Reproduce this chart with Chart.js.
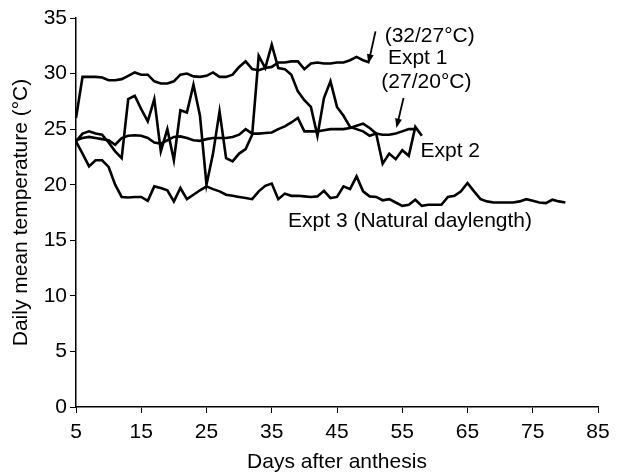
<!DOCTYPE html>
<html>
<head>
<meta charset="utf-8">
<script src="https://cdn.jsdelivr.net/npm/chart.js@4"></script>
<style>
  html, body { margin: 0; padding: 0; background: #fff; }
  #wrap { width: 622px; height: 474px; }
</style>
</head>
<body>
<div id="wrap"><canvas id="tempChart"></canvas></div>
<script>
// days after anthesis for each series
const daysHigh = [5,6,7,8,9,10,11,12,13,14,15,16,17,18,19,20,21,22,23,24,25,26,27,28,29,30,31,32,33,34,35,36,37,38,39,40,41,42,43,44,45,46,47,48,49,50];
const expt1High = [26.0,29.7,29.7,29.7,29.65,29.4,29.4,29.5,29.8,30.1,29.9,29.9,29.3,29.1,29.1,29.3,29.9,30.0,29.75,29.7,29.8,30.1,29.7,29.7,29.9,30.6,31.1,30.4,30.3,30.5,30.6,31.0,31.0,31.1,31.1,30.4,30.9,31.0,30.9,30.9,31.0,31.0,31.2,31.5,31.2,31.0];

const daysLow = [5,6,7,8,9,10,11,12,13,14,15,16,17,18,19,20,21,22,23,24,25,26,27,28,29,30,31,32,33,34,35,36,37,38,39,40,41,42,43,44,45,46,47,48,49,50,51,52,53,54,55,56,57];
const expt1Low = [24.0,24.2,24.3,24.2,24.1,24.0,23.6,24.2,24.4,24.45,24.4,24.2,23.8,23.7,24.0,24.3,24.35,24.2,24.0,23.95,24.1,24.2,24.2,24.2,24.3,24.5,25.0,24.6,24.6,24.65,24.7,25.0,25.25,25.6,26.0,24.8,24.8,24.8,24.9,25.0,25.0,25.0,25.1,25.3,25.5,25.1,24.6,24.5,24.5,24.6,24.8,25.0,25.0];

const days2 = [5,6,7,8,9,10,11,12,13,14,15,16,17,18,19,20,21,22,23,24,25,26,27,28,29,30,31,32,33,34,35,36,37,38,39,40,41,42,43,44,45,46,47,48,49,50,51,52,53,54,55,56,57,58];
const expt2 = [23.9,24.6,24.8,24.6,24.5,23.8,23.0,22.4,27.7,28.0,26.8,25.7,27.7,23.0,25.0,22.2,26.7,26.5,29.0,26.2,20.0,22.8,26.6,22.4,22.1,22.8,23.2,24.5,31.6,30.5,32.6,30.5,30.4,29.9,28.4,27.6,27.0,24.4,27.8,29.3,27.0,26.2,25.2,25.0,24.8,24.4,24.6,21.9,22.8,22.3,23.1,22.6,25.2,24.4];

const days3 = [5,6,7,8,9,10,11,12,13,14,15,16,17,18,19,20,21,22,23,24,25,26,27,28,29,30,31,32,33,34,35,36,37,38,39,40,41,42,43,44,45,46,47,48,49,50,51,52,53,54,55,56,57,58,59,60,61,62,63,64,65,66,67,68,69,70,71,72,73,74,75,76,77,78,79,80];
const expt3 = [23.9,22.8,21.65,22.2,22.2,21.6,20.0,18.9,18.85,18.9,18.9,18.55,19.85,19.7,19.5,18.5,19.7,18.7,19.1,19.5,19.85,19.6,19.4,19.1,19.0,18.9,18.8,18.7,19.4,19.9,20.1,18.7,19.2,19.0,19.0,18.95,18.9,18.95,19.45,18.8,18.9,19.85,19.6,20.75,19.4,18.95,18.9,18.6,18.7,18.4,18.1,18.2,18.65,18.1,18.2,18.2,18.2,18.9,19.0,19.4,20.15,19.4,18.7,18.5,18.4,18.4,18.4,18.4,18.5,18.7,18.55,18.4,18.35,18.65,18.5,18.4];

const xTicks = [5,15,25,35,45,55,65,75,85];
const yTicks = [0,5,10,15,20,25,30,35];

// text labels placed in data units
const labelTexts = ['(32/27°C)', 'Expt 1', '(27/20°C)', 'Expt 2', 'Expt 3 (Natural daylength)'];
const labelX = [52.3, 52.8, 51.8, 57.8, 37.5];
const labelY = [33.4, 31.4, 29.2, 23.0, 16.75];
// arrows: from (x0,y0) to (x1,y1)
const arrowFrom = [[50.9, 33.8], [55.2, 27.8]];
const arrowTo = [[49.8, 30.9], [54.1, 25.1]];

const FONT = "'Liberation Sans', Arial, Helvetica, sans-serif";
const FSIZE = 21;

function toPoints(xs, ys) {
  return xs.map((d, i) => ({ x: d, y: ys[i] }));
}

function lineSet(label, xs, ys) {
  return {
    label: label,
    data: toPoints(xs, ys),
    borderColor: '#000',
    borderWidth: 2.6,
    pointRadius: 0,
    tension: 0,
    fill: false
  };
}

const annotate = {
  id: 'annotate',
  afterDatasetsDraw(chart) {
    const ctx = chart.ctx;
    const xs = chart.scales.x, ys = chart.scales.y;
    ctx.save();
    ctx.fillStyle = '#000';
    ctx.font = FSIZE + 'px ' + FONT;
    ctx.textAlign = 'left';
    ctx.textBaseline = 'middle';
    labelTexts.forEach((t, i) => {
      ctx.fillText(t, xs.getPixelForValue(labelX[i]), ys.getPixelForValue(labelY[i]));
    });
    ctx.strokeStyle = '#000';
    ctx.lineWidth = 1.8;
    arrowFrom.forEach((f, i) => {
      const x0 = xs.getPixelForValue(f[0]), y0 = ys.getPixelForValue(f[1]);
      const x1 = xs.getPixelForValue(arrowTo[i][0]), y1 = ys.getPixelForValue(arrowTo[i][1]);
      const ang = Math.atan2(y1 - y0, x1 - x0);
      const head = 10;
      ctx.beginPath();
      ctx.moveTo(x0, y0);
      ctx.lineTo(x1 - Math.cos(ang) * 6, y1 - Math.sin(ang) * 6);
      ctx.stroke();
      ctx.beginPath();
      ctx.moveTo(x1, y1);
      ctx.lineTo(x1 - head * Math.cos(ang - 0.35), y1 - head * Math.sin(ang - 0.35));
      ctx.lineTo(x1 - head * Math.cos(ang + 0.35), y1 - head * Math.sin(ang + 0.35));
      ctx.closePath();
      ctx.fill();
    });
    ctx.restore();
  }
};

document.addEventListener('DOMContentLoaded', function () {
  const ctx = document.getElementById('tempChart').getContext('2d');
  new Chart(ctx, {
    type: 'line',
    data: {
      datasets: [
        lineSet('Expt 1 (32/27°C)', daysHigh, expt1High),
        lineSet('Expt 1 (27/20°C)', daysLow, expt1Low),
        lineSet('Expt 2', days2, expt2),
        lineSet('Expt 3 (Natural daylength)', days3, expt3)
      ]
    },
    options: {
      responsive: true,
      maintainAspectRatio: false,
      animation: false,
      layout: { padding: { top: 18, right: 24, bottom: 0, left: 0 } },
      plugins: {
        legend: { display: false },
        tooltip: { enabled: false }
      },
      scales: {
        x: {
          type: 'linear',
          min: 5,
          max: 85,
          afterBuildTicks: axis => { axis.ticks = xTicks.map(v => ({ value: v })); },
          afterFit: axis => { axis.height = 67; },
          grid: { drawOnChartArea: false, color: '#000', tickLength: 6, lineWidth: 1 },
          border: { color: '#000', width: 1.5 },
          ticks: { color: '#000', font: { family: FONT, size: FSIZE }, padding: 7, maxRotation: 0 },
          title: { display: true, text: 'Days after anthesis', color: '#000', font: { family: FONT, size: FSIZE }, padding: { top: 0, bottom: -1 } }
        },
        y: {
          min: 0,
          max: 35,
          afterBuildTicks: axis => { axis.ticks = yTicks.map(v => ({ value: v })); },
          afterFit: axis => { axis.width = 76; },
          grid: { drawOnChartArea: false, color: '#000', tickLength: 6, lineWidth: 1 },
          border: { color: '#000', width: 1.5 },
          ticks: { color: '#000', font: { family: FONT, size: FSIZE }, padding: 3 },
          title: { display: true, text: 'Daily mean temperature (°C)', color: '#000', font: { family: FONT, size: FSIZE }, padding: { top: 9, bottom: 0 } }
        }
      }
    },
    plugins: [annotate]
  });
});
</script>
</body>
</html>
